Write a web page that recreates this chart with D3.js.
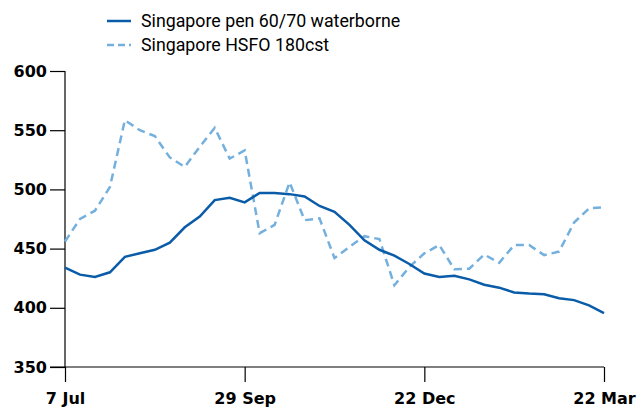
<!DOCTYPE html>
<html>
<head>
<meta charset="utf-8">
<script src="https://cdn.jsdelivr.net/npm/d3@7"></script>
<style>
  body { margin: 0; background: #fff; }
  svg { display: block; }
  .legend text { font-family: Roboto, "DejaVu Sans", sans-serif; font-size: 17.8px; }
</style>
</head>
<body>
<svg id="chart" width="643" height="410"></svg>
<script>
// weekly points, 7 Jul .. 22 Mar (37 weeks)
const tickLabels = ['7 Jul', '29 Sep', '22 Dec', '22 Mar'];
const tickIndex = [0, 12, 24, 36];
const yTicks = [350, 400, 450, 500, 550, 600];

const bitumen = [434, 428, 426, 430, 443, 446, 449, 455, 468, 477, 491, 493, 489, 497,
  497, 496, 494, 486, 481, 470, 457, 449, 444, 437, 429, 426, 427, 424, 419.5, 417,
  413, 412, 411.5, 408, 406.5, 402, 395.5];
const hsfo = [456, 475, 482, 502, 558.5, 550, 545, 527, 519, 536, 552, 526, 533, 463,
  470, 506, 474, 475.5, 442, 451.5, 460.5, 458, 419, 434.5, 446, 453, 432.5, 433, 445,
  438, 453, 453, 444.5, 447.5, 472, 484, 485];

const series = [
  { name: 'Singapore pen 60/70 waterborne', values: bitumen, color: '#0a5ca8', dash: null },
  { name: 'Singapore HSFO 180cst', values: hsfo, color: '#74b0de', dash: '8,5' }
];

const svg = d3.select('#chart');
const margin = { left: 65, right: 39, top: 71, bottom: 43 };
const width = +svg.attr('width');
const height = +svg.attr('height');

const x = d3.scaleLinear().domain([0, 36]).range([margin.left, width - margin.right]);
const y = d3.scaleLinear().domain([350, 600]).range([height - margin.bottom, margin.top]);

// y axis
const yAxis = svg.append('g')
    .attr('transform', `translate(${margin.left},0)`)
    .call(d3.axisLeft(y).tickValues(yTicks).tickSize(15).tickPadding(3));
yAxis.select('.domain').attr('d', `M0,${y(600)}V${y(350)}`);

// x axis
const xAxis = svg.append('g')
    .attr('transform', `translate(0,${y(350)})`)
    .call(d3.axisBottom(x).tickValues(tickIndex).tickSize(15).tickPadding(11)
      .tickFormat((d, i) => tickLabels[i]));
xAxis.select('.domain').attr('d', `M${x(0) - 15},0H${x(36)}`);

svg.selectAll('.tick line').attr('stroke', '#000').attr('stroke-width', 1.2);
svg.selectAll('.domain').attr('stroke', '#000').attr('stroke-width', 1.2);
[yAxis, xAxis].forEach(g => g.attr('font-family', '"DejaVu Sans", Verdana, sans-serif')
    .attr('font-size', 16).attr('font-weight', 'bold'));
svg.selectAll('.tick text').attr('fill', '#000');

const line = d3.line()
    .x((d, i) => x(i))
    .y(d => y(d));

svg.selectAll('path.series')
    .data(series.slice().reverse())
    .enter()
    .append('path')
    .attr('class', 'series')
    .attr('fill', 'none')
    .attr('stroke', d => d.color)
    .attr('stroke-width', 2.5)
    .attr('stroke-dasharray', d => d.dash)
    .attr('d', d => line(d.values));

// legend
const legend = svg.append('g').attr('class', 'legend');
const rows = legend.selectAll('g')
    .data(series)
    .enter()
    .append('g')
    .attr('transform', (d, i) => `translate(107,${21 + i * 24})`);
rows.append('line')
    .attr('x1', 0).attr('x2', 24)
    .attr('stroke', d => d.color)
    .attr('stroke-width', 2.5)
    .attr('stroke-dasharray', d => d.dash ? '7,4' : null);
rows.append('text')
    .attr('x', 34)
    .attr('dy', '0.35em')
    .text(d => d.name);
</script>
</body>
</html>
